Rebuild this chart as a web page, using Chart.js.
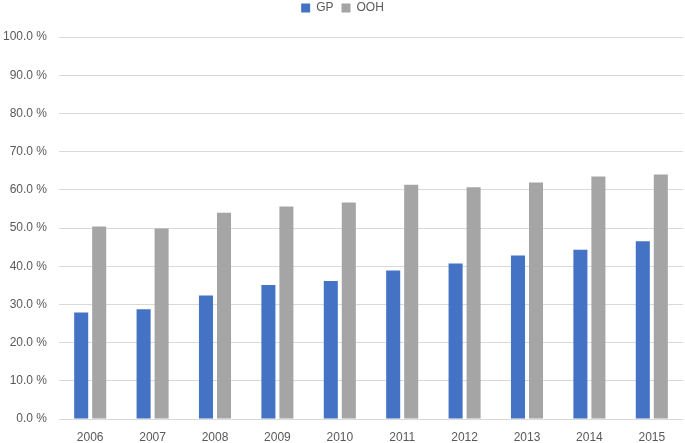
<!DOCTYPE html>
<html>
<head>
<meta charset="utf-8">
<script src="https://cdn.jsdelivr.net/npm/chart.js@4"></script>
<style>
  html, body { margin: 0; padding: 0; background: #fff; }
  #wrap { width: 685px; height: 443px; }
</style>
</head>
<body>
<div id="wrap"><canvas id="myChart"></canvas></div>
<script>
/* datos */
const years = ['2006', '2007', '2008', '2009', '2010', '2011', '2012', '2013', '2014', '2015'];
const gp = [27.9, 28.7, 32.3, 35.1, 36.1, 38.9, 40.7, 42.8, 44.3, 46.5];
const ooh = [50.4, 49.9, 54.0, 55.6, 56.7, 61.3, 60.7, 61.9, 63.5, 64.0];

const data = {
	labels: years,
	datasets: [{
		label: 'GP',
		data: gp,
		backgroundColor: '#4472C4'
	}, {
		label: 'OOH',
		data: ooh,
		backgroundColor: '#A5A5A5'
	}]
};

/* espacio extra debajo de la leyenda */
const margenLeyenda = {
	id: 'margenLeyenda',
	beforeInit(chart) {
		const fit = chart.legend.fit;
		chart.legend.fit = function () {
			fit.bind(chart.legend)();
			this.height = 43;
		};
	}
};

const ctx = document.getElementById('myChart');
const myChart = new Chart(ctx, {
	type: 'bar',
	data: data,
	plugins: [margenLeyenda],
	options: {
		responsive: true,
		maintainAspectRatio: false,
		animation: false,
		datasets: {
			bar: {
				categoryPercentage: 0.577,
				barPercentage: 0.78
			}
		},
		layout: {
			padding: { left: 2, right: 2, top: -6, bottom: 0 }
		},
		plugins: {
			legend: {
				position: 'top',
				labels: {
					boxWidth: 9,
					boxHeight: 9,
					padding: 8,
					color: '#595959',
					font: { family: 'Liberation Sans', size: 12 }
				}
			},
			tooltip: { enabled: false }
		},
		scales: {
			x: {
				grid: { display: false, drawTicks: false },
				border: { display: false },
				ticks: {
					color: '#595959',
					font: { family: 'Liberation Sans', size: 12 },
					padding: 11
				},
				afterFit: function (scale) { scale.height = 24; }
			},
			y: {
				min: 0,
				max: 100,
				ticks: {
					stepSize: 10,
					color: '#595959',
					font: { family: 'Liberation Sans', size: 12 },
					padding: 12,
					callback: function (v) { return v.toFixed(1) + ' %'; }
				},
				grid: { color: '#D9D9D9', drawTicks: false },
				border: { display: false },
				afterFit: function (scale) { scale.width = 57; }
			}
		}
	}
});
</script>
</body>
</html>
